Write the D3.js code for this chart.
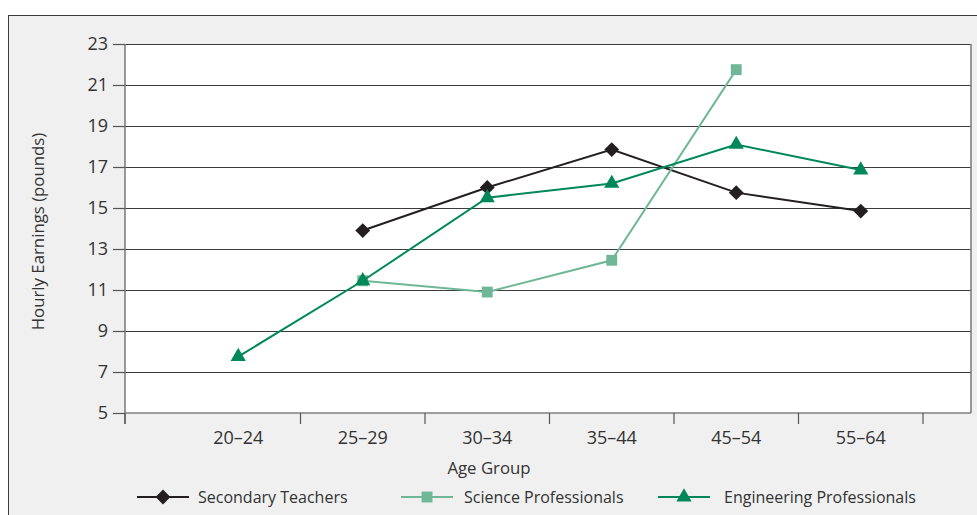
<!DOCTYPE html>
<html>
<head>
<meta charset="utf-8">
<script src="https://cdn.jsdelivr.net/npm/d3@7"></script>
<style>
html,body{margin:0;padding:0;background:#fff;}
svg{display:block;}
svg text{font-family:"Open Sans","Noto Sans",sans-serif;}
</style>
</head>
<body>
<svg id="chart" width="977" height="515"></svg>
<script>
const categories = ["20–24","25–29","30–34","35–44","45–54","55–64"];
const yTicks = [5,7,9,11,13,15,17,19,21,23];
const teachers = [null, 13.9, 16.0, 17.85, 15.75, 14.85];
const science = [null, 11.45, 10.9, 12.45, 21.75, null];
const engineering = [7.75, 11.45, 15.5, 16.2, 18.1, 16.85];
const seriesNames = ["Secondary Teachers","Science Professionals","Engineering Professionals"];
const seriesColors = ["#231f20","#6fb797","#00885a"];
const seriesShapes = [d3.symbolDiamond2, d3.symbolSquare, d3.symbolTriangle];

const svg = d3.select("#chart");
// outer frame
svg.append("rect").attr("x",8.5).attr("y",15.5).attr("width",975).attr("height",510)
  .attr("fill","#f0f0f0").attr("stroke","#3a3a3a").attr("stroke-width",1);

const plot = {left:125, right:971, top:44, bottom:413};
const x = d3.scaleBand().domain(categories).range([176, 923]).padding(0);
const y = d3.scaleLinear().domain([5,23]).range([plot.bottom, plot.top]);

svg.append("rect").attr("x",plot.left).attr("y",plot.top)
  .attr("width",plot.right-plot.left).attr("height",plot.bottom-plot.top).attr("fill","#fff");

// gridlines
svg.append("g").selectAll("line").data(yTicks.filter(d=>d>5)).join("line")
  .attr("x1",plot.left).attr("x2",plot.right)
  .attr("y1",d=>Math.round(y(d))+0.5).attr("y2",d=>Math.round(y(d))+0.5)
  .attr("stroke","#3c3c3c").attr("stroke-width",1.1);

// plot frame (left, right, bottom)
const fr = svg.append("g").attr("stroke","#808080").attr("stroke-width",1.6).attr("fill","none");
fr.append("line").attr("x1",plot.left).attr("x2",plot.left).attr("y1",plot.top).attr("y2",plot.bottom+11);
fr.append("line").attr("x1",plot.right).attr("x2",plot.right).attr("y1",plot.top).attr("y2",plot.bottom);
fr.append("line").attr("x1",plot.left).attr("x2",plot.right).attr("y1",plot.bottom).attr("y2",plot.bottom);

// y axis
const yAxis = d3.axisLeft(y).tickValues(yTicks).tickSize(12).tickPadding(5).tickFormat(d3.format("d"));
const gy = svg.append("g").attr("transform",`translate(${plot.left},0)`).call(yAxis)
  .attr("font-family",null).attr("font-size",null);
gy.select(".domain").remove();
gy.selectAll(".tick line").attr("stroke","#555").attr("stroke-width",1.2);
gy.selectAll(".tick text").attr("fill","#333").style("font-size","18px");

// x axis: ticks at band boundaries
const bounds = categories.map(c=>x(c)+x.bandwidth());
svg.append("g").selectAll("line").data([plot.left].concat(bounds)).join("line")
  .attr("x1",d=>d).attr("x2",d=>d).attr("y1",plot.bottom).attr("y2",plot.bottom+11)
  .attr("stroke","#555").attr("stroke-width",1.2);
svg.append("g").selectAll("text").data(categories).join("text")
  .attr("x",d=>x(d)+x.bandwidth()/2).attr("y",444)
  .attr("text-anchor","middle").attr("fill","#333").style("font-size","18px").text(d=>d);

// axis titles
svg.append("text").attr("x",489).attr("y",474).attr("text-anchor","middle")
  .attr("fill","#333").style("font-size","16.8px").text("Age Group");
svg.append("text").attr("transform",`translate(44,${(plot.top+plot.bottom)/2+3}) rotate(-90)`)
  .attr("text-anchor","middle").attr("fill","#333").style("font-size","16.8px").text("Hourly Earnings (pounds)");

// series
const allSeries = [teachers, science, engineering];
const cx = d => x(d)+x.bandwidth()/2;
const symSizes = [140, 118, 100];
allSeries.forEach((vals,i)=>{
  const pts = categories.map((c,j)=>({c, v: vals[j]})).filter(p=>p.v!==null);
  const line = d3.line().x(p=>cx(p.c)).y(p=>y(p.v));
  svg.append("path").datum(pts).attr("d",line).attr("fill","none")
    .attr("stroke",seriesColors[i]).attr("stroke-width",2);
  svg.append("g").selectAll("path").data(pts).join("path")
    .attr("transform",p=>`translate(${cx(p.c)},${y(p.v)})`)
    .attr("d",d3.symbol().type(seriesShapes[i]).size(symSizes[i]))
    .attr("fill",seriesColors[i]);
});

// legend
const legX = [137, 401, 658];
const legTextX = [198, 464, 724];
seriesNames.forEach((n,i)=>{
  const g = svg.append("g").attr("transform",`translate(${legX[i]},497)`);
  g.append("line").attr("x1",0).attr("x2",52).attr("y1",0).attr("y2",0)
    .attr("stroke",seriesColors[i]).attr("stroke-width",2);
  g.append("path").attr("transform","translate(26,0)")
    .attr("d",d3.symbol().type(seriesShapes[i]).size(symSizes[i])).attr("fill",seriesColors[i]);
  g.append("text").attr("x",legTextX[i]-legX[i]).attr("y",5.5).attr("fill","#333").style("font-size","16px").text(n);
});
</script>
</body>
</html>
